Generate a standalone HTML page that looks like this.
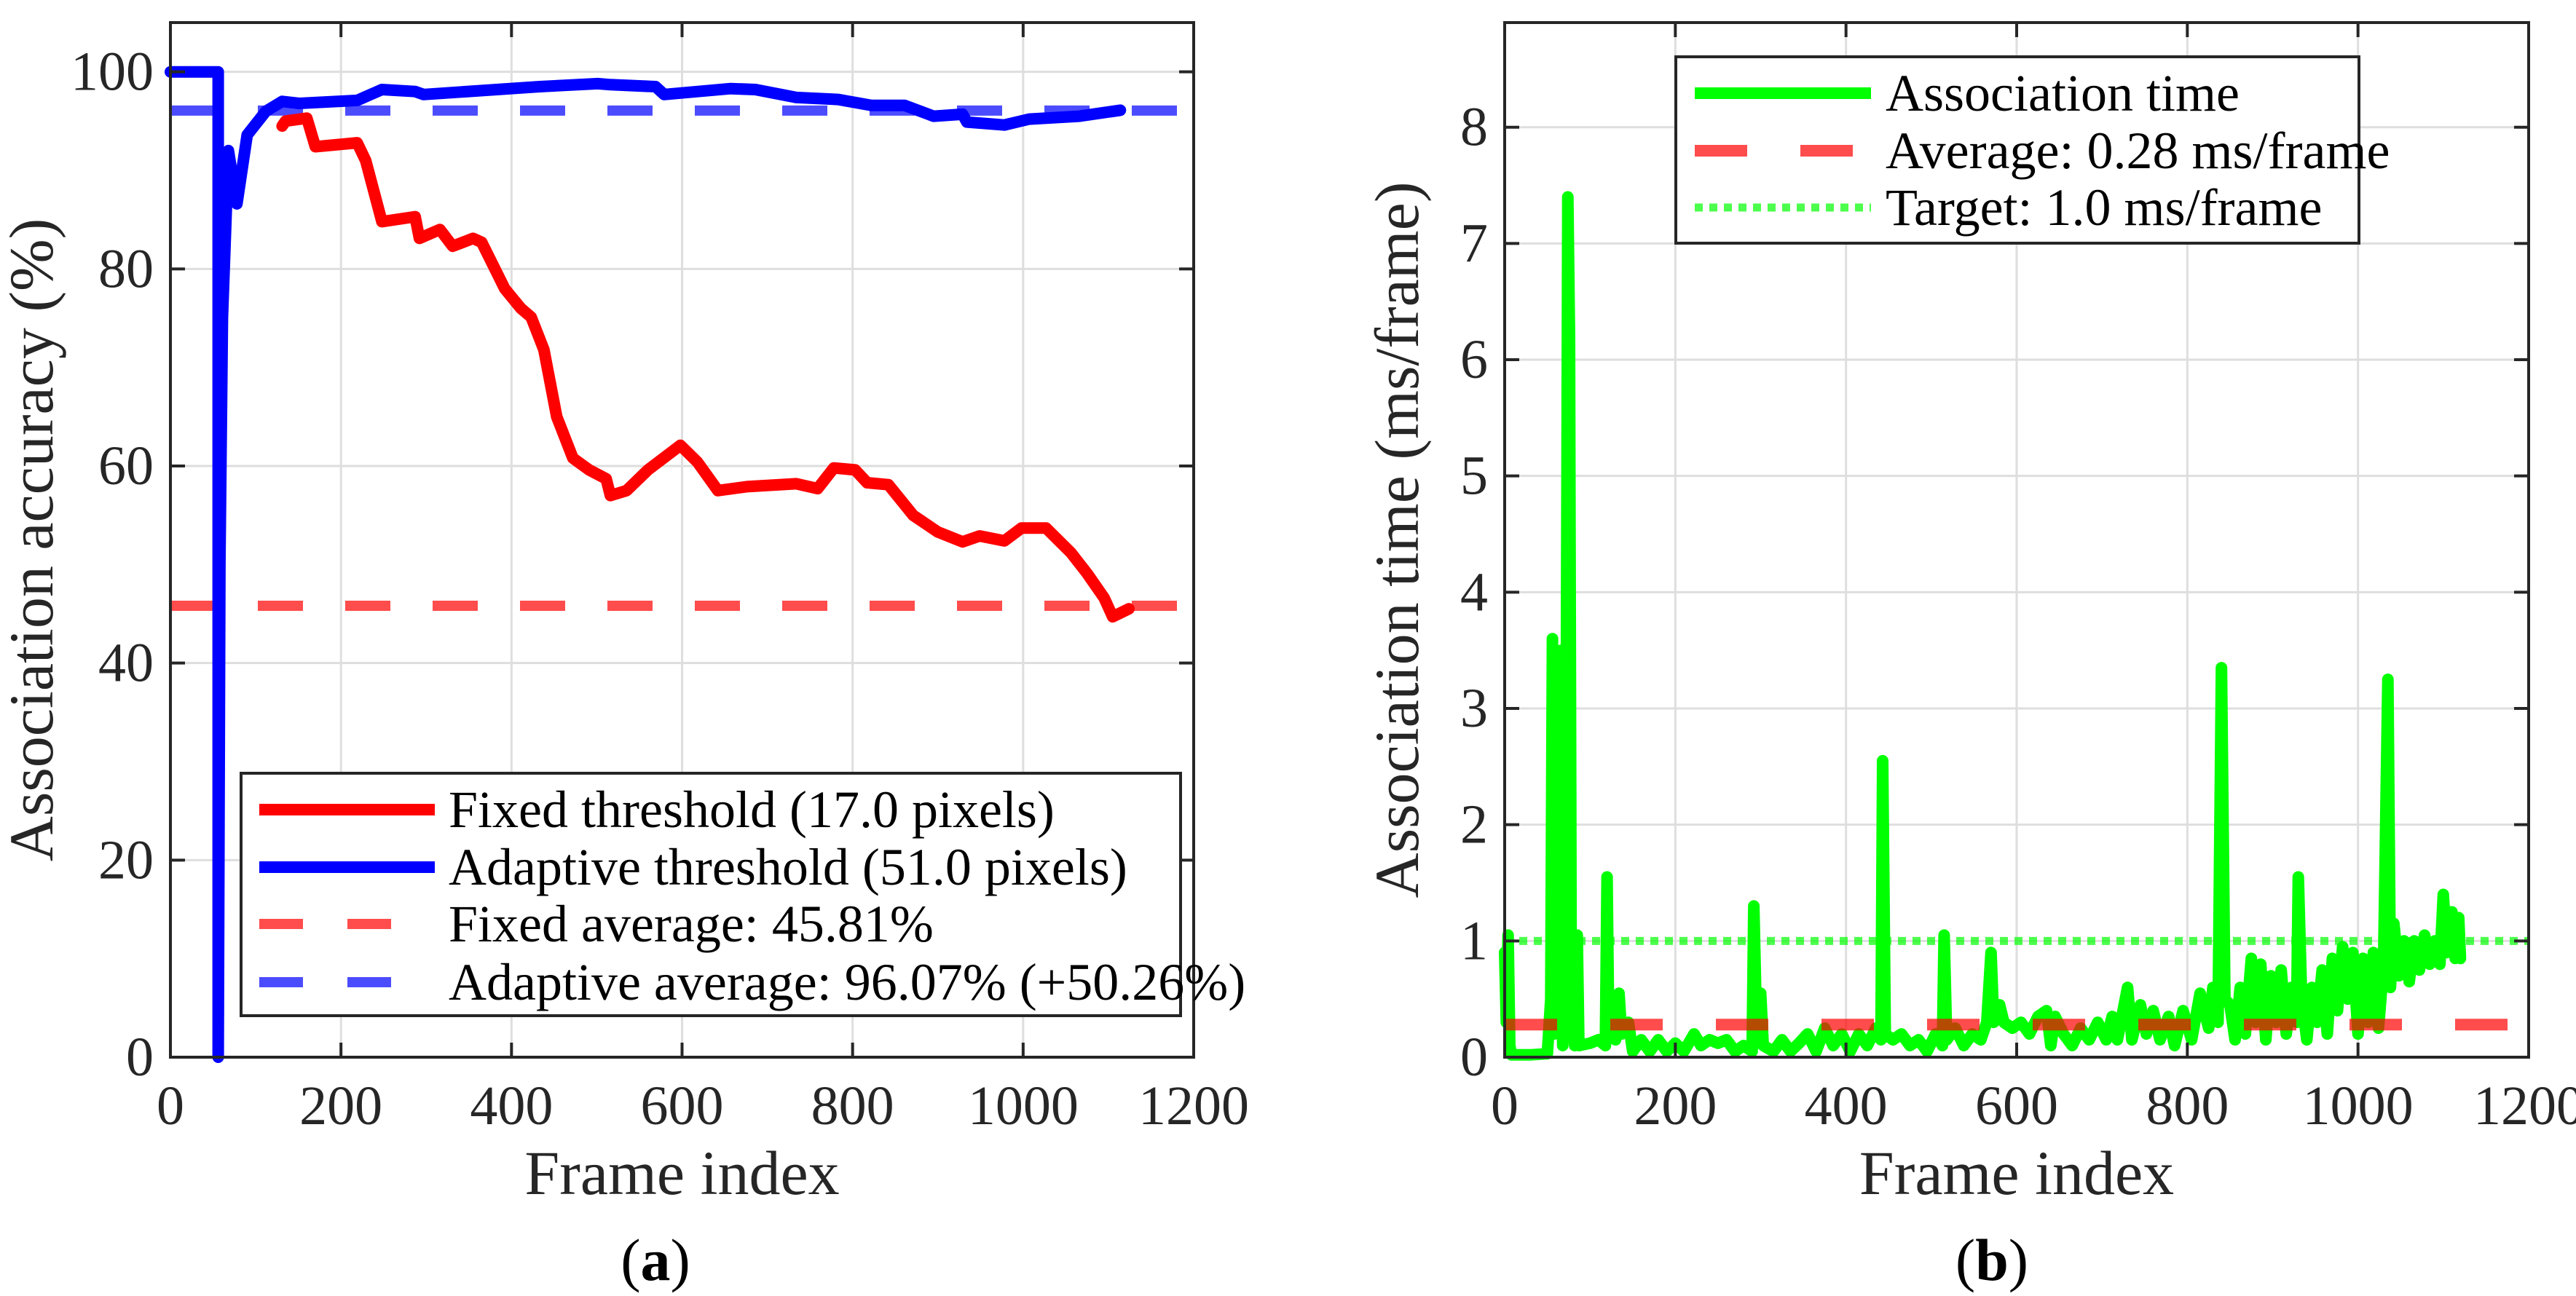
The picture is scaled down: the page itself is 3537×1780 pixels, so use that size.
<!DOCTYPE html>
<html><head><meta charset="utf-8"><style>
html,body{margin:0;padding:0;background:#fff;}
svg, svg text{font-family:"Liberation Serif","Times New Roman",serif;}
svg{display:block;}
</style></head><body>
<svg id="fig" width="3537" height="1780" viewBox="0 0 3537 1780" xmlns="http://www.w3.org/2000/svg" font-family="Liberation Serif, serif">
<rect width="3537" height="1780" fill="#fff"/>
<g id="pa"></g>
<g id="pb"></g>
</svg>
<script>
// ---- Chart (a) data ----
const xTicks = [0,200,400,600,800,1000,1200];
const yTicksA = [0,20,40,60,80,100];
const fixedFrames = [131,135,160,170,219,229,248,287,292,316,331,355,365,392,411,423,438,453,472,491,511,516,535,560,598,618,642,676,734,759,778,803,817,842,871,900,929,949,978,998,1027,1056,1075,1095,1105,1124];
const fixedAcc = [94.5,95,95.3,92.4,92.8,91,84.8,85.3,83.1,84,82.3,83.1,82.7,78,76,75.1,71.8,65,60.8,59.6,58.7,57,57.5,59.6,62.1,60.4,57.5,57.9,58.2,57.7,59.8,59.6,58.3,58.1,55,53.3,52.3,52.9,52.4,53.7,53.7,51.2,49.1,46.6,44.7,45.5];
const adaptFrames = [0,56,56,58,61,68,78,90,112,131,151,219,248,287,297,433,501,516,569,579,657,686,734,783,822,861,895,929,934,978,1007,1066,1114];
const adaptAcc = [100,100,0,50,75,92,86.6,93.6,96,97,96.8,97.1,98.2,98,97.7,98.5,98.8,98.7,98.5,97.7,98.3,98.2,97.4,97.2,96.6,96.6,95.5,95.7,94.9,94.6,95.2,95.5,96.1];
const fixedAvg = 45.81;
const adaptAvg = 96.07;
// ---- Chart (b) data ----
const yTicksB = [0,1,2,3,4,5,6,7,8];
const timeFrames = [0,2,4,6,8,30,50,54,56,58,62,64,66,68,72,74,76,78,82,85,87,100,110,118,120,122,130,134,137,145,150,160,170,180,190,200,210,222,230,240,250,260,270,280,290,292,295,300,303,315,325,335,345,355,365,375,385,395,405,415,425,435,441,443,446,455,465,475,485,495,505,513,515,518,528,538,548,558,565,570,573,580,585,595,605,615,625,635,640,645,655,665,675,685,695,705,712,718,730,735,745,752,760,768,778,785,795,805,815,825,830,836,840,844,850,856,862,868,875,880,886,892,898,904,910,916,922,928,930,934,940,946,952,958,964,970,976,982,988,994,1000,1006,1012,1018,1024,1030,1035,1038,1042,1048,1054,1060,1066,1072,1078,1084,1090,1096,1100,1104,1110,1114,1118,1120];
const timeVals = [0.9,0.3,1.05,0.1,0.02,0.02,0.03,0.5,3.6,0.2,2.0,0.3,3.5,0.1,2.5,7.4,6.2,0.5,0.1,1.05,0.1,0.12,0.15,0.1,1.55,0.2,0.15,0.55,0.2,0.3,0.05,0.15,0.05,0.15,0.05,0.12,0.05,0.2,0.1,0.15,0.12,0.15,0.05,0.1,0.05,1.3,0.3,0.55,0.1,0.05,0.15,0.05,0.12,0.2,0.05,0.25,0.1,0.2,0.05,0.2,0.1,0.25,0.15,2.55,0.2,0.15,0.2,0.1,0.15,0.05,0.2,0.1,1.05,0.15,0.25,0.1,0.2,0.15,0.3,0.9,0.3,0.45,0.3,0.25,0.3,0.2,0.35,0.4,0.1,0.35,0.2,0.1,0.25,0.15,0.3,0.15,0.35,0.15,0.6,0.15,0.45,0.2,0.4,0.15,0.35,0.1,0.4,0.15,0.55,0.25,0.6,0.3,3.35,0.5,0.45,0.15,0.6,0.2,0.85,0.3,0.8,0.15,0.7,0.3,0.75,0.2,0.6,0.3,1.55,0.5,0.15,0.6,0.3,0.75,0.2,0.85,0.4,0.95,0.5,0.9,0.2,0.85,0.3,0.9,0.25,0.8,3.25,0.6,1.15,0.7,1.0,0.65,1.0,0.75,1.05,0.8,1.0,0.8,1.4,0.9,1.25,0.85,1.2,0.85];
const avgTime = 0.28;
const targetTime = 1.0;

const NS='http://www.w3.org/2000/svg';
const FONT='Liberation Serif, Times New Roman, serif';
function mk(parent,tag,attrs,text){const e=document.createElementNS(NS,tag);for(const k in attrs)e.setAttribute(k,attrs[k]);if(tag==='text')e.setAttribute('font-family',FONT);if(text!==undefined)e.textContent=text;parent.appendChild(e);return e;}

function axes(g,L,R,T,B,xmax,ymax,yt,xlabel,ylabel,ylabX,ytickX){
  const sx=v=>L+(v/xmax)*(R-L), sy=v=>B-(v/ymax)*(B-T);
  const grid=mk(g,'g',{});
  
  
  xTicks.forEach(v=>{if(v>0&&v<xmax)mk(grid,'line',{x1:sx(v),x2:sx(v),y1:T,y2:B,stroke:'#dedede','stroke-width':3});});
  yt.forEach(v=>{if(v>0)mk(grid,'line',{x1:L,x2:R,y1:sy(v),y2:sy(v),stroke:'#dedede','stroke-width':3});});
  return {sx,sy,finish:function(){
    const ax=mk(g,'g',{});
    
    
    mk(ax,'rect',{x:L,y:T,width:R-L,height:B-T,fill:'none',stroke:'#262626','stroke-width':4});
    xTicks.forEach(v=>{
      mk(ax,'line',{x1:sx(v),x2:sx(v),y1:B,y2:B-20,stroke:'#262626','stroke-width':4});
      mk(ax,'line',{x1:sx(v),x2:sx(v),y1:T,y2:T+20,stroke:'#262626','stroke-width':4});
      const t=mk(ax,'text',{x:sx(v),y:B+92,'text-anchor':'middle','font-size':76,fill:'#262626'},String(v));
      
      
    });
    yt.forEach(v=>{
      mk(ax,'line',{x1:L,x2:L+20,y1:sy(v),y2:sy(v),stroke:'#262626','stroke-width':4});
      mk(ax,'line',{x1:R,x2:R-20,y1:sy(v),y2:sy(v),stroke:'#262626','stroke-width':4});
      const t=mk(ax,'text',{x:ytickX,y:sy(v)+25,'text-anchor':'end','font-size':76,fill:'#262626'},String(v));
      
      
    });
    const xl=mk(g,'text',{x:(L+R)/2,y:1640,'text-anchor':'middle','font-size':86,fill:'#262626'},xlabel);
    
    
    const yl=mk(g,'text',{x:ylabX,y:(T+B)/2,'text-anchor':'middle','font-size':86,fill:'#262626',transform:'rotate(-90 '+ylabX+' '+(T+B)/2+')'},ylabel);
    
    
  }};
}
function pathOf(xs,ys,sx,sy){return xs.map((x,i)=>(i?'L':'M')+sx(x).toFixed(1)+' '+sy(ys[i]).toFixed(1)).join(' ');}

// ---- Chart A ----
const ga=document.getElementById('pa');
const A=axes(ga,234,1639,31,1452,1200,105,yTicksA,'Frame index','Association accuracy (%)',72,211);
let e;
e=mk(ga,'line',{x1:A.sx(0),x2:A.sx(1200),y1:A.sy(fixedAvg),y2:A.sy(fixedAvg),stroke:'rgba(255,0,0,0.7)','stroke-width':14,'stroke-dasharray':'62 58'});


e=mk(ga,'line',{x1:A.sx(0),x2:A.sx(1200),y1:A.sy(adaptAvg),y2:A.sy(adaptAvg),stroke:'rgba(0,0,255,0.7)','stroke-width':14,'stroke-dasharray':'62 58'});


e=mk(ga,'path',{d:pathOf(fixedFrames,fixedAcc,A.sx,A.sy),fill:'none',stroke:'#ff0000','stroke-width':16,'stroke-linejoin':'round','stroke-linecap':'round'});


e=mk(ga,'path',{d:pathOf(adaptFrames,adaptAcc,A.sx,A.sy),fill:'none',stroke:'#0000ff','stroke-width':16,'stroke-linejoin':'round','stroke-linecap':'round'});


A.finish();
const lgA=mk(ga,'g',{});


mk(lgA,'rect',{x:331,y:1062,width:1290,height:333,fill:'#fff',stroke:'#262626','stroke-width':4});
const legA=[['Fixed threshold (17.0 pixels)','#ff0000','',16],['Adaptive threshold (51.0 pixels)','#0000ff','',16],['Fixed average: 45.81%','rgba(255,0,0,0.7)','60 61',14],['Adaptive average: 96.07% (+50.26%)','rgba(0,0,255,0.7)','60 61',14]];
const legAy=[1112,1191,1269,1349];
legA.forEach((r,i)=>{
  const le=mk(lgA,'g',{});
  
  
  const a={x1:356,x2:597,y1:legAy[i],y2:legAy[i],stroke:r[1],'stroke-width':r[3]};
  if(r[2])a['stroke-dasharray']=r[2];
  mk(le,'line',a);
  mk(le,'text',{x:616,y:legAy[i]+24,'font-size':72,fill:'#000'},r[0]);
});
e=mk(ga,'text',{x:900,y:1758,'text-anchor':'middle','font-size':82,fill:'#000'});


e.innerHTML='(<tspan font-weight="bold">a</tspan>)';

// ---- Chart B ----
const gb=document.getElementById('pb');
const B=axes(gb,2066,3472,31,1452,1200,8.9,yTicksB,'Frame index','Association time (ms/frame)',1947,2043);
e=mk(gb,'path',{d:pathOf(timeFrames,timeVals,B.sx,B.sy),fill:'none',stroke:'#00ff00','stroke-width':16,'stroke-linejoin':'round','stroke-linecap':'round'});


e=mk(gb,'line',{x1:B.sx(0),x2:B.sx(1200),y1:B.sy(avgTime),y2:B.sy(avgTime),stroke:'rgba(255,0,0,0.7)','stroke-width':16,'stroke-dasharray':'72 73'});


e=mk(gb,'line',{x1:B.sx(0),x2:B.sx(1200),y1:B.sy(targetTime),y2:B.sy(targetTime),stroke:'rgba(0,255,0,0.7)','stroke-width':11,'stroke-dasharray':'11 9'});


B.finish();
const lgB=mk(gb,'g',{});


mk(lgB,'rect',{x:2301,y:78,width:938,height:256,fill:'#fff',stroke:'#262626','stroke-width':4});
const legB=[['Association time','#00ff00','',16],['Average: 0.28 ms/frame','rgba(255,0,0,0.7)','72 73',16],['Target: 1.0 ms/frame','rgba(0,255,0,0.7)','11 9',11]];
const legBy=[128,207,285];
legB.forEach((r,i)=>{
  const le=mk(lgB,'g',{});
  
  
  const a={x1:2327,x2:2569,y1:legBy[i],y2:legBy[i],stroke:r[1],'stroke-width':r[3]};
  if(r[2])a['stroke-dasharray']=r[2];
  mk(le,'line',a);
  mk(le,'text',{x:2589,y:legBy[i]+24,'font-size':72,fill:'#000'},r[0]);
});
e=mk(gb,'text',{x:2735,y:1758,'text-anchor':'middle','font-size':82,fill:'#000'});


e.innerHTML='(<tspan font-weight="bold">b</tspan>)';
</script>
</body></html>
